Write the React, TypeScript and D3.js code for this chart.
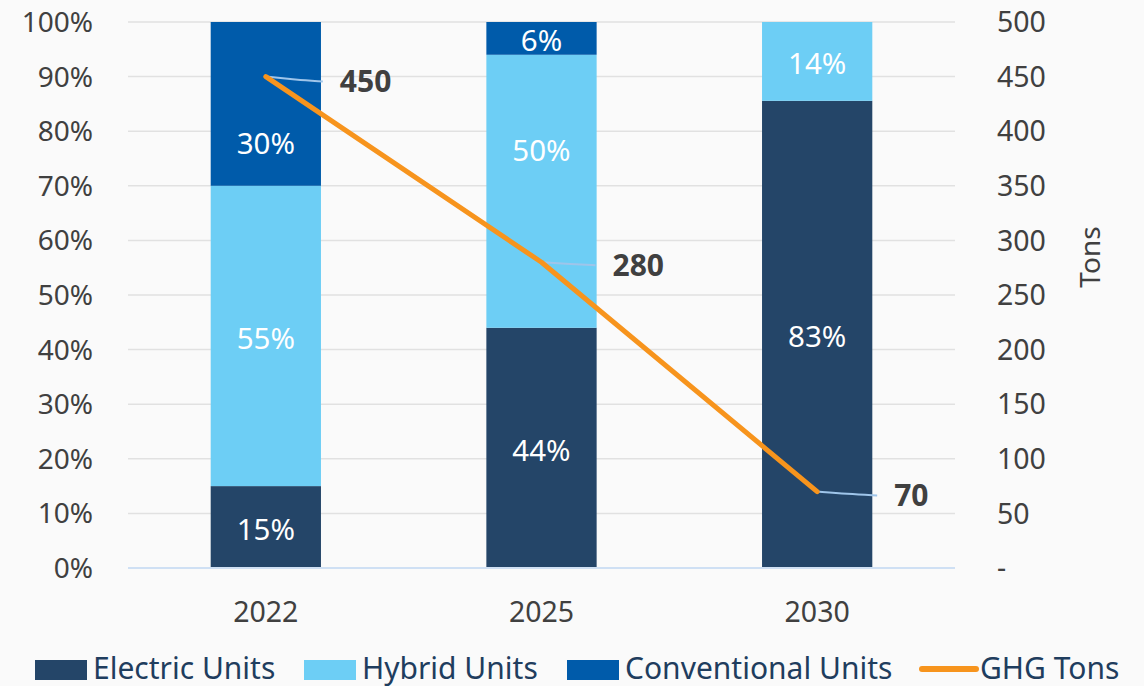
import React, { useEffect, useRef } from 'react';
import * as d3 from 'd3';

const years = ['2022', '2025', '2030'];
const electric = [15, 44, 83];
const hybrid = [55, 50, 14];
const conventional = [30, 6, 0];
const ghgTons = [450, 280, 70];
const leftTicks = [0, 0.1, 0.2, 0.3, 0.4, 0.5, 0.6, 0.7, 0.8, 0.9, 1];
const rightTicks = [0, 50, 100, 150, 200, 250, 300, 350, 400, 450, 500];

const seriesKeys = ['electric', 'hybrid', 'conventional'];
const seriesNames = ['Electric Units', 'Hybrid Units', 'Conventional Units'];
const colors = ['#244568', '#6dcef5', '#005baa'];
const lineColor = '#f7941d';
const FONT = '"Noto Sans", "Open Sans", sans-serif';

const W = 1144;
const H = 686;

// manual label nudges (px) so bar labels clear the line, per series then per year
const barLabelShift = [[0, 0, 0], [0, -43, 0], [37, 0, 0]];

const App: React.FC = () => {
  const svgRef = useRef<SVGSVGElement>(null);

  useEffect(() => {
    if (!svgRef.current) return;
    const svg = d3.select(svgRef.current);
    svg.selectAll('*').remove();

    const left = 128, right = 955, top = 22, bottom = 568;

    const rows = years.map((y, i) => ({
      year: y,
      electric: electric[i],
      hybrid: hybrid[i],
      conventional: conventional[i],
    }));

    const x = d3.scaleBand().domain(years).range([left, right]).padding(0);
    const barW = x.bandwidth() * 0.4;
    const yL = d3.scaleLinear().domain([0, 1]).range([bottom, top]);
    const yR = d3.scaleLinear().domain([0, 500]).range([bottom, top]);

    svg.append('rect').attr('width', W).attr('height', H).attr('fill', '#fafafa');

    // gridlines
    svg.append('g')
      .selectAll('line')
      .data(leftTicks.slice(1))
      .enter()
      .append('line')
      .attr('x1', left).attr('x2', right)
      .attr('y1', d => yL(d)).attr('y2', d => yL(d))
      .attr('stroke', '#e1e1e1')
      .attr('stroke-width', 1.5);

    // left axis labels
    svg.append('g')
      .selectAll('text')
      .data(leftTicks)
      .enter()
      .append('text')
      .attr('x', 93)
      .attr('y', d => yL(d))
      .attr('dy', '0.36em')
      .attr('text-anchor', 'end')
      .attr('font-family', FONT)
      .attr('font-size', 28)
      .attr('fill', '#404040')
      .text(d => d3.format('.0%')(d));

    // right axis labels
    svg.append('g')
      .selectAll('text')
      .data(rightTicks)
      .enter()
      .append('text')
      .attr('x', 997)
      .attr('y', d => yR(d))
      .attr('dy', '0.36em')
      .attr('text-anchor', 'start')
      .attr('font-family', FONT)
      .attr('font-size', 28.5)
      .attr('fill', '#404040')
      .text(d => (d === 0 ? '-' : String(d)));

    svg.append('text')
      .attr('transform', `translate(1090,${(top + bottom) / 2 - 38}) rotate(-90)`)
      .attr('text-anchor', 'middle')
      .attr('dy', '0.36em')
      .attr('font-family', FONT)
      .attr('font-size', 28)
      .attr('fill', '#404040')
      .text('Tons');

    // stacked bars (normalized)
    const stack = d3.stack<any>().keys(seriesKeys).offset(d3.stackOffsetExpand);
    const layers = stack(rows);

    layers.forEach((layer, li) => {
      const g = svg.append('g');
      layer.forEach((d, i) => {
        const raw = (rows[i] as any)[seriesKeys[li]];
        if (!raw) return;
        const cx = (x(years[i]) as number) + x.bandwidth() / 2;
        g.append('rect')
          .attr('x', cx - barW / 2)
          .attr('width', barW)
          .attr('y', yL(d[1]))
          .attr('height', yL(d[0]) - yL(d[1]))
          .attr('fill', colors[li]);
        g.append('text')
          .attr('x', cx)
          .attr('y', (yL(d[0]) + yL(d[1])) / 2 + barLabelShift[li][i] + 2)
          .attr('dy', '0.36em')
          .attr('text-anchor', 'middle')
          .attr('font-family', FONT)
          .attr('font-size', 29.5)
          .attr('fill', '#ffffff')
          .text(raw + '%');
      });
    });

    // baseline
    svg.append('line')
      .attr('x1', left).attr('x2', right)
      .attr('y1', bottom).attr('y2', bottom)
      .attr('stroke', '#cfe0f4')
      .attr('stroke-width', 2);

    // x labels
    svg.append('g')
      .selectAll('text')
      .data(years)
      .enter()
      .append('text')
      .attr('x', d => (x(d) as number) + x.bandwidth() / 2)
      .attr('y', 612)
      .attr('dy', '0.36em')
      .attr('text-anchor', 'middle')
      .attr('font-family', FONT)
      .attr('font-size', 28.5)
      .attr('fill', '#404040')
      .text(d => d);

    // GHG line
    const pts = years.map((yr, i) => [
      (x(yr) as number) + x.bandwidth() / 2,
      yR(ghgTons[i]),
    ] as [number, number]);

    const labelOffsets = [[74, 5], [71, 3], [77, 4]];

    // leader lines
    pts.forEach((p, i) => {
      const [dx, dy] = labelOffsets[i];
      svg.append('path')
        .attr('d', d3.line().curve(d3.curveBasis)([
          p,
          [p[0] + 30, p[1] + dy * 0.6],
          [p[0] + dx - 17, p[1] + dy],
        ]))
        .attr('fill', 'none')
        .attr('stroke', '#9fc5ea')
        .attr('stroke-width', 2);
    });

    svg.append('path')
      .attr('d', d3.line()(pts))
      .attr('fill', 'none')
      .attr('stroke', lineColor)
      .attr('stroke-width', 5)
      .attr('stroke-linecap', 'round')
      .attr('stroke-linejoin', 'round');

    pts.forEach((p, i) => {
      const [dx, dy] = labelOffsets[i];
      svg.append('text')
        .attr('x', p[0] + dx)
        .attr('y', p[1] + dy)
        .attr('dy', '0.36em')
        .attr('font-family', FONT)
        .attr('font-size', 30)
        .attr('font-weight', 700)
        .attr('fill', '#404040')
        .text(String(ghgTons[i]));
    });

    // legend
    const legendX = [35, 304, 567];
    const legY = 669;
    seriesNames.forEach((name, i) => {
      svg.append('rect')
        .attr('x', legendX[i])
        .attr('y', legY - 9)
        .attr('width', 52)
        .attr('height', 20)
        .attr('fill', colors[i]);
      svg.append('text')
        .attr('x', legendX[i] + 58)
        .attr('y', legY)
        .attr('dy', '0.33em')
        .attr('font-family', FONT)
        .attr('font-size', 30)
        .attr('fill', '#1f3d5e')
        .text(name);
    });
    svg.append('line')
      .attr('x1', 922).attr('x2', 976)
      .attr('y1', legY).attr('y2', legY)
      .attr('stroke', lineColor)
      .attr('stroke-width', 6)
      .attr('stroke-linecap', 'round');
    svg.append('text')
      .attr('x', 980)
      .attr('y', legY)
      .attr('dy', '0.33em')
      .attr('font-family', FONT)
      .attr('font-size', 30)
      .attr('fill', '#1f3d5e')
      .text('GHG Tons');
  }, []);

  return (
    <div style={{ position: 'fixed', left: 0, top: 0, width: W, height: H }}>
      <svg ref={svgRef} width={W} height={H} style={{ display: 'block' }} />
    </div>
  );
};

export default App;
